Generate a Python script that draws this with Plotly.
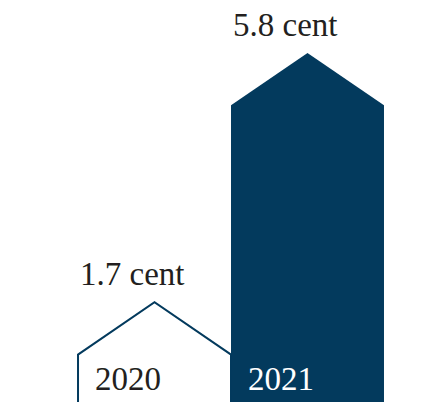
import plotly.graph_objects as go

# Chart data
years = ["2020", "2021"]
values = [1.7, 5.8]
value_labels = ["1.7 cent", "5.8 cent"]

NAVY = "#033a5d"
INK = "#231f20"
ROOF = 0.86      # height of the gable in value units
HALF = 0.5       # half width of each house

fig = go.Figure()

for i, (yr, v) in enumerate(zip(years, values)):
    left, right = i - HALF, i + HALF
    xs = [left, left, i, right, right, left]
    ys = [0, v - ROOF, v, v - ROOF, 0, 0]
    filled = i == 1
    fig.add_trace(go.Scatter(
        x=xs, y=ys, mode="lines", fill="toself",
        fillcolor=NAVY if filled else "white",
        line=dict(color=NAVY, width=0 if filled else 2),
        hoverinfo="skip", showlegend=False,
    ))
    # value label above the roof
    fig.add_annotation(
        x=left, y=v, text=value_labels[i], showarrow=False,
        xanchor="left", yanchor="bottom", xshift=0, yshift=8,
        font=dict(family="Liberation Serif", size=33, color=INK),
    )
    # year label inside the house, near the bottom edge of the plot
    fig.add_annotation(
        x=left, y=0, yref="y domain", text=yr, showarrow=False,
        xanchor="left", yanchor="bottom", xshift=15, yshift=3,
        font=dict(family="Liberation Serif", size=33,
                  color="white" if filled else INK),
    )

fig.update_layout(
    width=423, height=402,
    margin=dict(l=0, r=0, t=0, b=0),
    paper_bgcolor="white", plot_bgcolor="white",
    xaxis=dict(range=[-1.01, 1.755], visible=False, fixedrange=True),
    yaxis=dict(range=[0.06, 6.67], visible=False, fixedrange=True),
)

fig.write_html("out.html", config={"displayModeBar": False})
